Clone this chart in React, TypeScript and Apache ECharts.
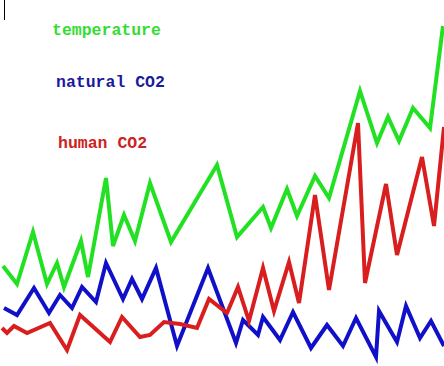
import React, { useEffect, useRef } from "react";
import * as echarts from "echarts";

// time positions (x) and levels (y)
const tempX = [3, 17, 33, 47, 57, 64, 81, 88, 106, 113, 124, 135, 150, 171, 217, 237, 263, 271, 287, 297, 315, 329, 360, 377, 388, 399, 413, 430, 443];
const tempY = [100, 82, 134, 82, 103, 79, 125, 89, 188, 120, 151, 125, 183, 124, 201, 129, 159, 138, 177, 150, 190, 168, 275, 223, 249, 225, 258, 238, 340];

const natX = [4, 17, 34, 49, 60, 72, 82, 96, 106, 123, 132, 142, 156, 177, 208, 236, 243, 258, 263, 280, 293, 311, 327, 343, 356, 376, 379, 397, 406, 420, 431, 444];
const natY = [58, 51, 78, 53, 71, 58, 79, 64, 103, 67, 87, 67, 98, 20, 98, 23, 46, 31, 49, 26, 54, 18, 41, 20, 48, 9, 55, 24, 60, 28, 45, 20];

const humX = [2, 7, 14, 27, 50, 67, 80, 110, 122, 140, 150, 164, 180, 197, 209, 227, 238, 249, 263, 274, 289, 299, 315, 329, 358, 365, 386, 397, 422, 434, 444];
const humY = [38, 33, 40, 33, 43, 16, 51, 24, 49, 29, 31, 44, 42, 38, 67, 53, 79, 45, 98, 55, 104, 63, 171, 76, 243, 83, 182, 111, 209, 140, 239];

const labels = ["temperature", "natural CO2", "human CO2"];

const zip = (xs: number[], ys: number[]) => xs.map((x, i) => [x, ys[i]]);

export default function App() {
  const ref = useRef<HTMLDivElement>(null);
  useEffect(() => {
    if (!ref.current) return;
    const chart = echarts.init(ref.current, null, { renderer: "svg" });
    const font = { fontFamily: "'Liberation Mono', 'DejaVu Sans Mono', monospace", fontWeight: "bold", fontSize: 16.5 };
    chart.setOption({
      animation: false,
      backgroundColor: "#ffffff",
      grid: { left: 0, right: 0, top: 0, bottom: 0 },
      xAxis: { type: "value", min: 0, max: 444, show: false },
      yAxis: { type: "value", min: 0, max: 366, show: false },
      series: [
        { type: "line", data: zip(tempX, tempY), showSymbol: false, lineStyle: { color: "#22e022", width: 4, join: "miter" }, itemStyle: { color: "#22e022" } },
        { type: "line", data: zip(natX, natY), showSymbol: false, lineStyle: { color: "#1010c8", width: 4, join: "miter" }, itemStyle: { color: "#1010c8" } },
        { type: "line", data: zip(humX, humY), showSymbol: false, lineStyle: { color: "#d81e1e", width: 4, join: "miter" }, itemStyle: { color: "#d81e1e" } },
      ],
      graphic: [
        { type: "line", shape: { x1: 4.5, y1: 0, x2: 4.5, y2: 20 }, style: { stroke: "#000", lineWidth: 1 } },
        { type: "text", x: 52, y: 30, style: { text: labels[0], fill: "#33dd33", textVerticalAlign: "middle", ...font } },
        { type: "text", x: 56, y: 82, style: { text: labels[1], fill: "#1a1a9a", textVerticalAlign: "middle", ...font } },
        { type: "text", x: 58, y: 143, style: { text: labels[2], fill: "#cc2222", textVerticalAlign: "middle", ...font } },
      ],
    });
    return () => chart.dispose();
  }, []);
  return <div ref={ref} style={{ position: "absolute", left: 0, top: 0, width: 444, height: 366 }} />;
}
